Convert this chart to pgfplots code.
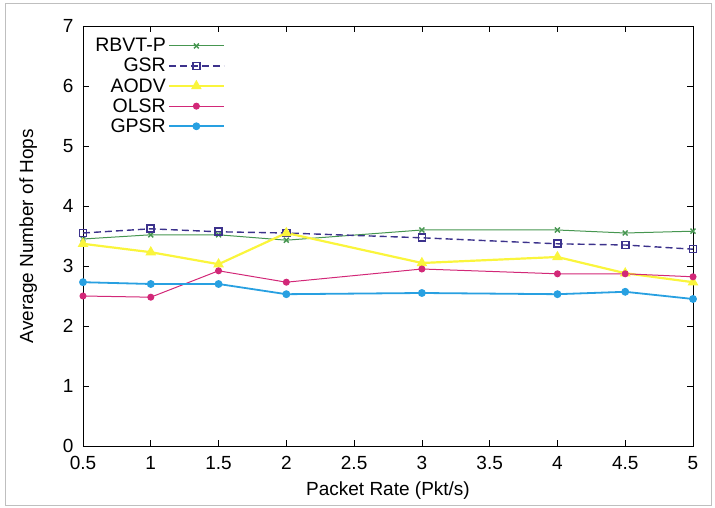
\documentclass[border=0pt]{standalone}
\usepackage{pgfplots}
\pgfplotsset{compat=1.18}
\usepackage{fontspec}
\setmainfont{Liberation Sans}
\definecolor{cR}{RGB}{70,150,80}
\definecolor{cG}{RGB}{60,50,140}
\definecolor{cA}{RGB}{250,245,60}
\definecolor{cO}{RGB}{210,40,120}
\definecolor{cP}{RGB}{40,160,225}
\begin{document}
\begin{tikzpicture}[x=1pt,y=1pt]
\useasboundingbox (0,0) rectangle (715,508);
\draw[gray!50, line width=0.8pt] (5,3) rectangle (711,505);
\begin{axis}[
  at={(83pt,62pt)}, anchor=south west,
  scale only axis, width=610pt, height=420pt,
  xmin=0.5, xmax=5, ymin=0, ymax=7,
  xtick={0.5,1,1.5,2,2.5,3,3.5,4,4.5,5},
  xticklabels={0.5,1,1.5,2,2.5,3,3.5,4,4.5,5},
  ytick={0,1,2,3,4,5,6,7},
  yticklabels={0,1,2,3,4,5,6,7},
  tick align=inside,
  major tick length=6pt,
  tick style={black, line width=0.6pt},
  axis line style={black, line width=0.8pt},
  ticklabel style={font=\fontsize{19}{22}\selectfont},
  /pgf/number format/assume math mode=true,
  xticklabel style={yshift=-7pt},
  yticklabel style={xshift=-6pt},
  xlabel={Packet Rate (Pkt/s)},
  ylabel={Average Number of Hops},
  label style={font=\fontsize{19}{22}\selectfont},
  xlabel style={at={(axis description cs:0.5,-0.105)}, anchor=center},
  ylabel style={at={(axis description cs:-0.09,0.5)}, anchor=center},
  legend plot pos=right,
  legend cell align=right,
  legend image code/.code={\draw[mark repeat=2,mark phase=2] plot coordinates {(9pt,0pt) (36.5pt,0pt) (64pt,0pt)};},
  legend style={at={(axis description cs:0.015,0.978)}, anchor=north west, draw=none, fill=none,
    font=\fontsize{19.5}{19.5}\selectfont, row sep=1pt, inner sep=1pt},
]
\addplot[cR, line width=1pt, mark=x, mark size=3.5pt, mark options={solid, line width=1.4pt}]
 coordinates {(0.5,3.45) (1,3.52) (1.5,3.52) (2,3.43) (3,3.6) (4,3.6) (4.5,3.55) (5,3.58)};
\addlegendentry{RBVT-P}
\addplot[cG, line width=1.4pt, dash pattern=on 7pt off 4pt, mark=square, mark size=3.5pt, mark options={solid, line width=1.6pt}]
 coordinates {(0.5,3.55) (1,3.62) (1.5,3.57) (2,3.55) (3,3.47) (4,3.37) (4.5,3.35) (5,3.28)};
\addlegendentry{GSR}
\addplot[cA, line width=2.2pt, mark=triangle*, mark size=4pt, mark options={solid}]
 coordinates {(0.5,3.37) (1,3.23) (1.5,3.03) (2,3.55) (3,3.05) (4,3.15) (4.5,2.88) (5,2.73)};
\addlegendentry{AODV}
\addplot[cO, line width=1pt, mark=*, mark size=3pt, mark options={solid}]
 coordinates {(0.5,2.5) (1,2.48) (1.5,2.92) (2,2.73) (3,2.95) (4,2.87) (4.5,2.87) (5,2.82)};
\addlegendentry{OLSR}
\addplot[cP, line width=1.8pt, mark=*, mark size=3pt, mark options={solid}]
 coordinates {(0.5,2.73) (1,2.7) (1.5,2.7) (2,2.53) (3,2.55) (4,2.53) (4.5,2.57) (5,2.45)};
\addlegendentry{GPSR}
\end{axis}
\end{tikzpicture}
\end{document}
